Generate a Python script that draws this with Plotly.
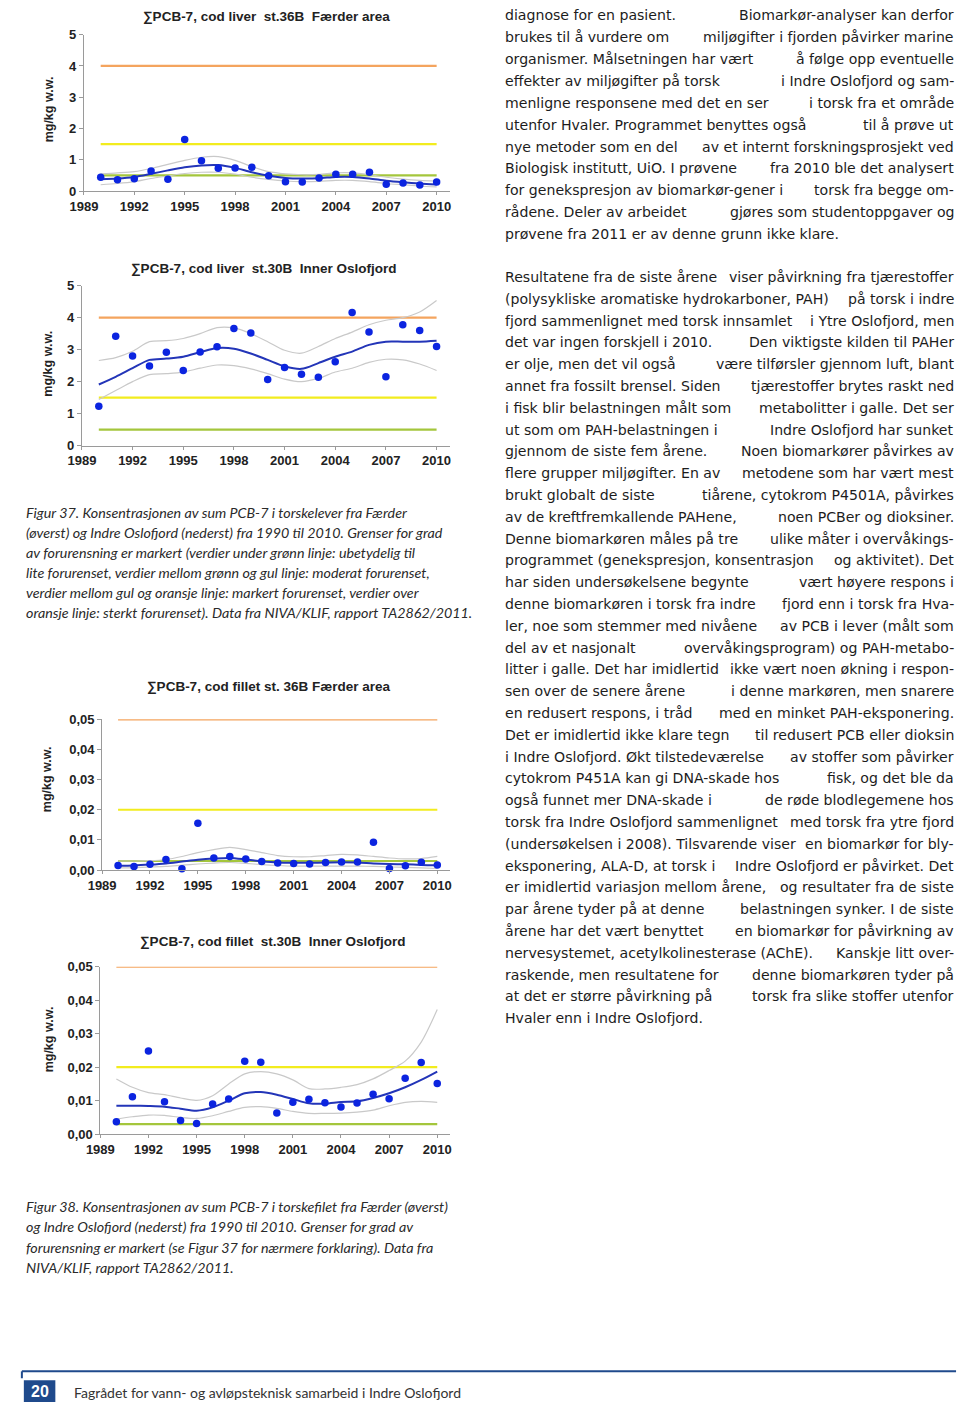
import plotly.graph_objects as go
import math

W, H = 960, 1411

years = list(range(1990, 2011))
x_tick_years = [1989, 1992, 1995, 1998, 2001, 2004, 2007, 2010]

# ---- Chart 1: cod liver st.36B Færder ----
liver_36b = [0.44, 0.36, 0.39, 0.64, 0.38, 1.65, 0.97, 0.73, 0.74, 0.76, 0.49,
             0.30, 0.29, 0.42, 0.54, 0.54, 0.60, 0.22, 0.26, 0.19, 0.29]
liver_36b_trend = [0.38, 0.40, 0.45, 0.55, 0.66, 0.76, 0.82, 0.83, 0.74, 0.60, 0.49,
                   0.42, 0.40, 0.41, 0.45, 0.45, 0.40, 0.33, 0.28, 0.24, 0.21]
liver_36b_upper = [0.55, 0.58, 0.62, 0.72, 0.85, 0.98, 1.08, 1.10, 0.98, 0.78, 0.62,
                   0.55, 0.52, 0.53, 0.58, 0.58, 0.52, 0.44, 0.38, 0.34, 0.32]
liver_36b_lower = [0.20, 0.24, 0.30, 0.40, 0.48, 0.56, 0.60, 0.60, 0.54, 0.44, 0.37,
                   0.32, 0.30, 0.31, 0.34, 0.34, 0.30, 0.24, 0.20, 0.16, 0.13]

# ---- Chart 2: cod liver st.30B Inner Oslofjord ----
liver_30b = [1.23, 3.42, 2.80, 2.49, 2.92, 2.35, 2.93, 3.09, 3.66, 3.52, 2.07,
             2.44, 2.23, 2.14, 2.62, 4.16, 3.55, 2.15, 3.78, 3.60, 3.10]
liver_30b_trend = [1.91, 2.15, 2.42, 2.68, 2.72, 2.78, 2.92, 3.05, 3.03, 2.88, 2.68,
                   2.48, 2.40, 2.58, 2.78, 2.94, 3.15, 3.25, 3.25, 3.25, 3.28]
liver_30b_upper = [2.66, 2.75, 2.95, 3.25, 3.28, 3.35, 3.50, 3.69, 3.68, 3.50, 3.25,
                   2.98, 2.89, 3.10, 3.35, 3.55, 3.78, 3.92, 4.00, 4.18, 4.54]
liver_30b_lower = [1.44, 1.72, 2.00, 2.22, 2.25, 2.30, 2.42, 2.52, 2.50, 2.40, 2.25,
                   2.08, 2.00, 2.10, 2.30, 2.42, 2.60, 2.70, 2.68, 2.55, 2.35]

# ---- Chart 3: cod fillet st.36B Færder ----
fillet_36b = [0.0015, 0.0012, 0.0019, 0.0035, 0.0004, 0.0155, 0.0040, 0.0045, 0.0037, 0.0028, 0.0023,
              0.0022, 0.0020, 0.0025, 0.0027, 0.0027, 0.0092, 0.0005, 0.0014, 0.0026, 0.0017]
fillet_36b_trend = [0.0014, 0.0015, 0.0018, 0.0022, 0.0028, 0.0034, 0.0038, 0.0040, 0.0035, 0.0029, 0.0025,
                    0.0024, 0.0024, 0.0025, 0.0026, 0.0025, 0.0022, 0.0020, 0.0019, 0.0017, 0.0016]
fillet_36b_upper = [0.0030, 0.0030, 0.0031, 0.0035, 0.0045, 0.0058, 0.0068, 0.0075, 0.0068, 0.0058, 0.0048,
                    0.0044, 0.0044, 0.0048, 0.0052, 0.0050, 0.0045, 0.0040, 0.0037, 0.0038, 0.0045]
fillet_36b_lower = [0.0007, 0.0008, 0.0010, 0.0012, 0.0016, 0.0020, 0.0023, 0.0025, 0.0022, 0.0018, 0.0015,
                    0.0013, 0.0013, 0.0013, 0.0013, 0.0013, 0.0012, 0.0010, 0.0009, 0.0007, 0.0005]

# ---- Chart 4: cod fillet st.30B Inner Oslofjord ----
fillet_30b = [0.0037, 0.0112, 0.0248, 0.0097, 0.0041, 0.0032, 0.0090, 0.0105, 0.0218, 0.0215, 0.0063,
              0.0095, 0.0104, 0.0094, 0.0081, 0.0093, 0.0119, 0.0106, 0.0167, 0.0214, 0.0151]
fillet_30b_trend = [0.0085, 0.0085, 0.0084, 0.0082, 0.0076, 0.0070, 0.0080, 0.0100, 0.0122, 0.0126, 0.0118,
                    0.0105, 0.0092, 0.0091, 0.0096, 0.0098, 0.0108, 0.0122, 0.0140, 0.0162, 0.0187]
fillet_30b_upper = [0.0165, 0.0140, 0.0124, 0.0118, 0.0108, 0.0101, 0.0115, 0.0150, 0.0180, 0.0187, 0.0180,
                    0.0162, 0.0136, 0.0135, 0.0140, 0.0148, 0.0165, 0.0190, 0.0218, 0.0275, 0.0372]
fillet_30b_lower = [0.0045, 0.0052, 0.0057, 0.0056, 0.0050, 0.0047, 0.0055, 0.0068, 0.0080, 0.0082, 0.0077,
                    0.0068, 0.0062, 0.0062, 0.0063, 0.0066, 0.0072, 0.0085, 0.0095, 0.0098, 0.0095]

liver_limits = [0.5, 1.5, 4.0]          # green, yellow, orange
fillet_limits = [0.003, 0.02, 0.05]
liver_yticks = [0, 1, 2, 3, 4, 5]
liver_yticklabels = ["0", "1", "2", "3", "4", "5"]
fillet_yticks = [0, 0.01, 0.02, 0.03, 0.04, 0.05]
fillet_yticklabels = ["0,00", "0,01", "0,02", "0,03", "0,04", "0,05"]

titles = ["∑PCB-7, cod liver\u00a0 st.36B\u00a0 Færder area",
          "∑PCB-7, cod liver\u00a0 st.30B\u00a0 Inner Oslofjord",
          "∑PCB-7, cod fillet st. 36B Færder area",
          "∑PCB-7, cod fillet\u00a0 st.30B\u00a0 Inner Oslofjord"]
ylabel = "mg/kg w.w."

para1 = [
    "diagnose for en pasient. Biomarkør-analyser kan derfor",
    "brukes til å vurdere om miljøgifter i fjorden påvirker marine",
    "organismer. Målsetningen har vært å følge opp eventuelle",
    "effekter av miljøgifter på torsk i Indre Oslofjord og sam-",
    "menligne responsene med det en ser i torsk fra et område",
    "utenfor Hvaler. Programmet benyttes også til å prøve ut",
    "nye metoder som en del av et internt forskningsprosjekt ved",
    "Biologisk institutt, UiO. I prøvene fra 2010 ble det analysert",
    "for genekspresjon av biomarkør-gener i torsk fra begge om-",
    "rådene. Deler av arbeidet gjøres som studentoppgaver og",
    "prøvene fra 2011 er av denne grunn ikke klare.",
]
para2 = [
    "Resultatene fra de siste årene viser påvirkning fra tjærestoffer",
    "(polysykliske aromatiske hydrokarboner, PAH) på torsk i indre",
    "fjord sammenlignet med torsk innsamlet i Ytre Oslofjord, men",
    "det var ingen forskjell i 2010. Den viktigste kilden til PAHer",
    "er olje, men det vil også være tilførsler gjennom luft, blant",
    "annet fra fossilt brensel. Siden tjærestoffer brytes raskt ned",
    "i fisk blir belastningen målt som metabolitter i galle. Det ser",
    "ut som om PAH-belastningen i Indre Oslofjord har sunket",
    "gjennom de siste fem årene. Noen biomarkører påvirkes av",
    "flere grupper miljøgifter. En av metodene som har vært mest",
    "brukt globalt de siste tiårene, cytokrom P4501A, påvirkes",
    "av de kreftfremkallende PAHene, noen PCBer og dioksiner.",
    "Denne biomarkøren måles på tre ulike måter i overvåkings-",
    "programmet (genekspresjon, konsentrasjon og aktivitet). Det",
    "har siden undersøkelsene begynte vært høyere respons i",
    "denne biomarkøren i torsk fra indre fjord enn i torsk fra Hva-",
    "ler, noe som stemmer med nivåene av PCB i lever (målt som",
    "del av et nasjonalt overvåkingsprogram) og PAH-metabo-",
    "litter i galle. Det har imidlertid ikke vært noen økning i respon-",
    "sen over de senere årene i denne markøren, men snarere",
    "en redusert respons, i tråd med en minket PAH-eksponering.",
    "Det er imidlertid ikke klare tegn til redusert PCB eller dioksin",
    "i Indre Oslofjord. Økt tilstedeværelse av stoffer som påvirker",
    "cytokrom P451A kan gi DNA-skade hos fisk, og det ble da",
    "også funnet mer DNA-skade i de røde blodlegemene hos",
    "torsk fra Indre Oslofjord sammenlignet med torsk fra ytre fjord",
    "(undersøkelsen i 2008). Tilsvarende viser en biomarkør for bly-",
    "eksponering, ALA-D, at torsk i Indre Oslofjord er påvirket. Det",
    "er imidlertid variasjon mellom årene, og resultater fra de siste",
    "par årene tyder på at denne belastningen synker. I de siste",
    "årene har det vært benyttet en biomarkør for påvirkning av",
    "nervesystemet, acetylkolinesterase (AChE). Kanskje litt over-",
    "raskende, men resultatene for denne biomarkøren tyder på",
    "at det er større påvirkning på torsk fra slike stoffer utenfor",
    "Hvaler enn i Indre Oslofjord.",
]
cap37 = [
    "Figur 37. Konsentrasjonen av sum PCB-7 i torskelever fra Færder",
    "(øverst) og Indre Oslofjord (nederst) fra 1990 til 2010. Grenser for grad",
    "av forurensning er markert (verdier under grønn linje: ubetydelig til",
    "lite forurenset, verdier mellom grønn og gul linje: moderat forurenset,",
    "verdier mellom gul og oransje linje: markert forurenset, verdier over",
    "oransje linje: sterkt forurenset). Data fra NIVA/KLIF, rapport TA2862/2011.",
]
cap38 = [
    "Figur 38. Konsentrasjonen av sum PCB-7 i torskefilet fra Færder (øverst)",
    "og Indre Oslofjord (nederst) fra 1990 til 2010. Grenser for grad av",
    "forurensning er markert (se Figur 37 for nærmere forklaring). Data fra",
    "NIVA/KLIF, rapport TA2862/2011.",
]
page_no = "20"
footer = "Fagrådet for vann- og avløpsteknisk samarbeid i Indre Oslofjord"


def fx(p):
    return p / W


def fy(p):
    return 1 - p / H


LIMIT_COLORS = ["#A4C63C", "#F2EC1E", "#F4A45E"]
GREY = "#C9C9C9"
TREND = "#2335B8"
DOT = "#0B24E0"

charts = [
    dict(data=liver_36b, trend=liver_36b_trend, up=liver_36b_upper, lo=liver_36b_lower,
         limits=liver_limits, yt=liver_yticks, ytl=liver_yticklabels, yr=[0, 5],
         xd=(71, 443), yd=(186, 28), title=titles[0], tpos=(257, 10), ylab=(35, 103)),
    dict(data=liver_30b, trend=liver_30b_trend, up=liver_30b_upper, lo=liver_30b_lower,
         limits=liver_limits, yt=liver_yticks, ytl=liver_yticklabels, yr=[0, 5],
         xd=(69, 443), yd=(443.3, 281.7), title=titles[1], tpos=(253, 264), ylab=(35, 360)),
    dict(data=fillet_36b, trend=fillet_36b_trend, up=fillet_36b_upper, lo=fillet_36b_lower,
         limits=fillet_limits, yt=fillet_yticks, ytl=fillet_yticklabels, yr=[0, 0.05],
         xd=(89.5, 443), yd=(872.3, 720), title=titles[2], tpos=(259, 687), ylab=(33, 780)),
    dict(data=fillet_30b, trend=fillet_30b_trend, up=fillet_30b_upper, lo=fillet_30b_lower,
         limits=fillet_limits, yt=fillet_yticks, ytl=fillet_yticklabels, yr=[0, 0.05],
         xd=(87.7, 443), yd=(1139.3, 970), title=titles[3], tpos=(263, 945), ylab=(35, 1043)),
]

fig = go.Figure()
annotations = []
shapes = []
layout_axes = {}

TICKFONT = dict(family="Liberation Sans, Arial, sans-serif", size=13, color="#222222", weight="bold")

for i, c in enumerate(charts, start=1):
    xa = "x" if i == 1 else f"x{i}"
    ya = "y" if i == 1 else f"y{i}"
    for lim, col in zip(c["limits"], LIMIT_COLORS):
        fig.add_trace(go.Scatter(x=[years[0], years[-1]], y=[lim, lim], mode="lines",
                                 line=dict(color=col, width=2.2), xaxis=xa, yaxis=ya,
                                 showlegend=False, hoverinfo="skip"))
    for band in (c["up"], c["lo"]):
        fig.add_trace(go.Scatter(x=years, y=band, mode="lines",
                                 line=dict(color=GREY, width=1.2, shape="spline", smoothing=0.8),
                                 xaxis=xa, yaxis=ya, showlegend=False, hoverinfo="skip"))
    fig.add_trace(go.Scatter(x=years, y=c["trend"], mode="lines",
                             line=dict(color=TREND, width=2, shape="spline", smoothing=0.8),
                             xaxis=xa, yaxis=ya, showlegend=False))
    fig.add_trace(go.Scatter(x=years, y=c["data"], mode="markers",
                             marker=dict(color=DOT, size=7.5), cliponaxis=False,
                             xaxis=xa, yaxis=ya, showlegend=False))
    xkey = "xaxis" if i == 1 else f"xaxis{i}"
    ykey = "yaxis" if i == 1 else f"yaxis{i}"
    layout_axes[xkey] = dict(domain=[fx(c["xd"][0]), fx(c["xd"][1])], range=[1989, 2010.8],
                             anchor=ya, tickvals=x_tick_years, ticktext=[str(v) for v in x_tick_years],
                             showgrid=False, zeroline=False, showline=True, linecolor="#9A9A9A",
                             linewidth=1, ticks="outside", ticklen=3, tickcolor="#9A9A9A",
                             tickfont=TICKFONT)
    layout_axes[ykey] = dict(domain=[fy(c["yd"][0]), fy(c["yd"][1])], range=c["yr"],
                             anchor=xa, tickvals=c["yt"], ticktext=c["ytl"],
                             showgrid=False, zeroline=False, showline=True, linecolor="#9A9A9A",
                             linewidth=1, ticks="outside", ticklen=4, tickcolor="#9A9A9A",
                             tickfont=TICKFONT)
    annotations.append(dict(text=c["title"], x=fx(c["tpos"][0]), y=fy(c["tpos"][1]),
                            xref="paper", yref="paper", xanchor="center", yanchor="middle",
                            showarrow=False,
                            font=dict(family="Liberation Sans, Arial, sans-serif", size=13.5,
                                      color="#222222", weight="bold")))
    annotations.append(dict(text=ylabel, x=fx(c["ylab"][0]), y=fy(c["ylab"][1]),
                            xref="paper", yref="paper", xanchor="center", yanchor="middle",
                            textangle=-90, showarrow=False,
                            font=dict(family="Liberation Sans, Arial, sans-serif", size=12.5,
                                      color="#222222", weight="bold")))

BODY = dict(family="DejaVu Sans, sans-serif", size=14.1, color="#1C1C1C")
LEFT, RIGHT = 497, 957


def add_paragraph(lines, y0, dy):
    for k, line in enumerate(lines):
        y = y0 + k * dy
        last = (k == len(lines) - 1)
        words = line.split(" ")
        if last or len(words) < 2:
            annotations.append(dict(text=line, x=fx(LEFT), y=fy(y), xref="paper", yref="paper",
                                    xanchor="left", yanchor="middle", showarrow=False, font=BODY))
        else:
            h = math.ceil(len(words) / 2)
            annotations.append(dict(text=" ".join(words[:h]), x=fx(LEFT), y=fy(y), xref="paper",
                                    yref="paper", xanchor="left", yanchor="middle",
                                    showarrow=False, font=BODY))
            annotations.append(dict(text=" ".join(words[h:]), x=fx(RIGHT), y=fy(y), xref="paper",
                                    yref="paper", xanchor="right", yanchor="middle",
                                    showarrow=False, font=BODY))


add_paragraph(para1, 8.5, 22.1)
add_paragraph(para2, 273, 22.03)

CAP = dict(family="Lato, sans-serif", size=14.3, color="#2A2A2A", style="italic")
for k, line in enumerate(cap37):
    annotations.append(dict(text=line, x=fx(10), y=fy(510.5 + k * 20.4), xref="paper", yref="paper",
                            xanchor="left", yanchor="middle", showarrow=False, font=CAP))
for k, line in enumerate(cap38):
    annotations.append(dict(text=line, x=fx(10), y=fy(1212 + k * 20.67), xref="paper", yref="paper",
                            xanchor="left", yanchor="middle", showarrow=False, font=CAP))

# footer
FOOT_BLUE = "#1F4A8C"
shapes.append(dict(type="line", xref="paper", yref="paper", x0=fx(8), x1=fx(957),
                   y0=fy(1379), y1=fy(1379), line=dict(color=FOOT_BLUE, width=2)))
shapes.append(dict(type="line", xref="paper", yref="paper", x0=fx(8), x1=fx(8),
                   y0=fy(1379), y1=fy(1386), line=dict(color=FOOT_BLUE, width=2)))
shapes.append(dict(type="rect", xref="paper", yref="paper", x0=fx(10), x1=fx(42),
                   y0=fy(1410), y1=fy(1388), fillcolor=FOOT_BLUE, line=dict(width=0)))
annotations.append(dict(text=page_no, x=fx(26), y=fy(1399.5), xref="paper", yref="paper",
                        xanchor="center", yanchor="middle", showarrow=False,
                        font=dict(family="Liberation Sans, Arial, sans-serif", size=16,
                                  color="white", weight="bold")))
annotations.append(dict(text=footer, x=fx(59), y=fy(1400), xref="paper", yref="paper",
                        xanchor="left", yanchor="middle", showarrow=False,
                        font=dict(family="Lato, sans-serif", size=14, color="#333333")))

fig.update_layout(width=W, height=H, autosize=False, margin=dict(l=0, r=0, t=0, b=0),
                  paper_bgcolor="white", plot_bgcolor="white",
                  showlegend=False, annotations=annotations, shapes=shapes, **layout_axes)

POST = (
    "document.documentElement.style.margin='0px';"
    "document.documentElement.style.padding='0px';"
    "document.documentElement.style.overflow='hidden';"
    "document.body.style.margin='0px';"
    "document.body.style.padding='0px';"
    "document.body.style.overflow='hidden';"
    "var gd=document.getElementById('{plot_id}');"
    "gd.style.position='fixed';gd.style.left='0px';gd.style.top='0px';"
)

fig.write_html("out.html", config={"displayModeBar": False, "responsive": False},
               post_script=POST)
